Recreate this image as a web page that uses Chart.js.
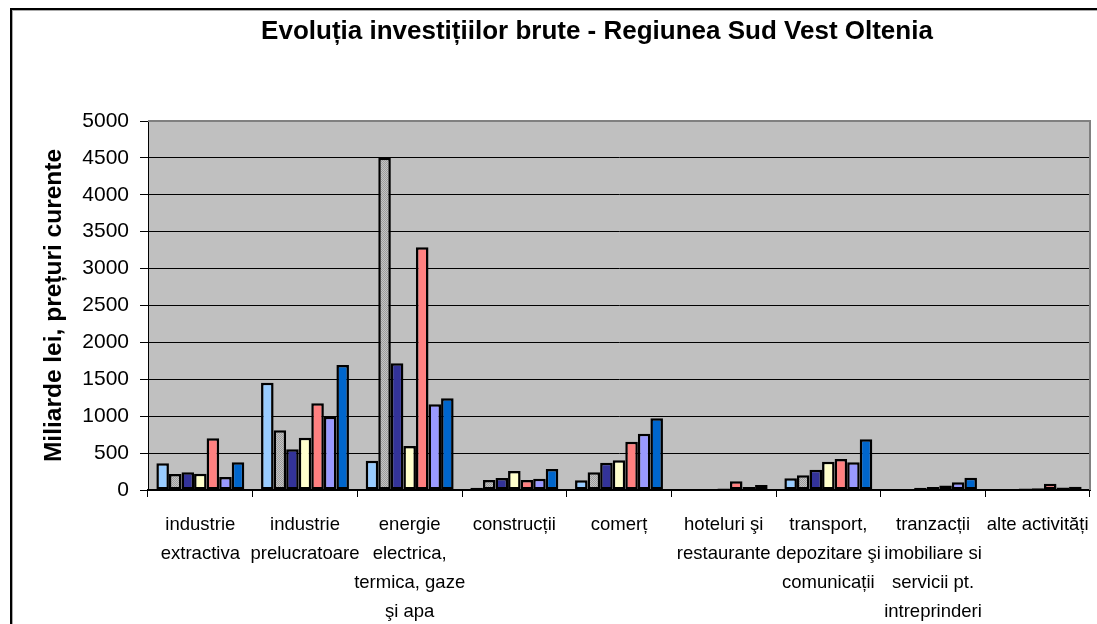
<!DOCTYPE html>
<html>
<head>
<meta charset="utf-8">
<script src="https://cdn.jsdelivr.net/npm/chart.js@4.4.1/dist/chart.umd.min.js"></script>
<style>
  html, body { margin: 0; padding: 0; background: #fff; overflow: hidden; }
  #wrap { position: relative; width: 1097px; height: 624px; }
  #frame { position: absolute; left: 10px; top: 8px; width: 1200px; height: 700px;
           border-left: 2px solid #000; border-top: 2px solid #000; box-shadow: inset 1px 1px 0 #aaa; }
  canvas { position: absolute; left: 0; top: 0; }
</style>
</head>
<body>
<div id="wrap">
  <div id="frame"></div>
  <canvas id="chart" width="1097" height="624"></canvas>
</div>
<script>
  const TITLE = "Evoluția investițiilor brute - Regiunea Sud Vest Oltenia";
  const Y_TITLE = "Miliarde lei, prețuri curente";

  const categories = [
    ["industrie", "extractiva"],
    ["industrie", "prelucratoare"],
    ["energie", "electrica,", "termica, gaze", "şi apa"],
    ["construcții"],
    ["comerț"],
    ["hoteluri şi", "restaurante"],
    ["transport,", "depozitare şi", "comunicații"],
    ["tranzacții", "imobiliare si", "servicii pt.", "intreprinderi"],
    ["alte activități"]
  ];

  const seriesNames = ["Seria 1", "Seria 2", "Seria 3", "Seria 4", "Seria 5", "Seria 6", "Seria 7"];
  const s1 = [362, 1454, 397, 30, 131, 3, 158, 5, 3];
  const s2 = [217, 809, 4503, 135, 240, 8, 199, 15, 8];
  const s3 = [240, 551, 1716, 162, 370, 15, 275, 30, 20];
  const s4 = [221, 709, 596, 257, 402, 20, 384, 40, 25];
  const s5 = [700, 1175, 3288, 135, 655, 117, 420, 60, 85];
  const s6 = [176, 993, 1161, 153, 763, 41, 375, 105, 35];
  const s7 = [375, 1694, 1242, 285, 971, 68, 687, 165, 45];

  const yMin = 0;
  const yMax = 5000;
  const yStep = 500;

  const FONT = "'Liberation Sans', Arial, sans-serif";

  // small stipple pattern for the grey series
  function greyPattern() {
    const c = document.createElement("canvas");
    c.width = 2;
    c.height = 2;
    const g = c.getContext("2d");
    g.fillStyle = "#c4c4c4";
    g.fillRect(0, 0, 2, 2);
    g.fillStyle = "#9c9c9c";
    g.fillRect(0, 0, 1, 1);
    g.fillRect(1, 1, 1, 1);
    return g.createPattern(c, "repeat");
  }

  const fills = ["#99ccff", greyPattern(), "#333399", "#ffffcc", "#ff8080", "#9999ff", "#0066cc"];
  const values = [s1, s2, s3, s4, s5, s6, s7];

  const plotBg = {
    id: "plotBg",
    beforeDraw(chart) {
      const { ctx, chartArea: a } = chart;
      ctx.save();
      ctx.fillStyle = "#c0c0c0";
      ctx.fillRect(a.left, a.top, a.right - a.left, a.bottom - a.top);
      ctx.restore();
    },
    beforeDatasetsDraw(chart) {
      const { ctx, chartArea: a } = chart;
      ctx.save();
      ctx.strokeStyle = "#808080";
      ctx.lineWidth = 2;
      ctx.beginPath();
      ctx.moveTo(a.left, a.top);
      ctx.lineTo(a.right, a.top);
      ctx.lineTo(a.right, a.bottom);
      ctx.stroke();
      ctx.restore();
    },
    afterDraw(chart) {
      const ctx = chart.ctx;
      ctx.save();
      ctx.fillStyle = "#000";
      ctx.font = "bold 26px " + FONT;
      ctx.textAlign = "center";
      ctx.textBaseline = "middle";
      ctx.fillText(TITLE, 597, 32);
      ctx.restore();
    }
  };

  new Chart(document.getElementById("chart"), {
    type: "bar",
    data: {
      labels: categories,
      datasets: values.map((v, i) => ({
        label: seriesNames[i],
        data: v,
        backgroundColor: fills[i],
        borderColor: "#000",
        borderWidth: 2.5,
        borderSkipped: false,
        barPercentage: 1.0,
        categoryPercentage: 0.84
      }))
    },
    options: {
      responsive: false,
      animation: false,
      devicePixelRatio: 1,
      layout: { padding: { top: 121, right: 7, left: 0, bottom: 0 } },
      plugins: {
        legend: { display: false },
        tooltip: { enabled: false },
        title: { display: false }
      },
      scales: {
        x: {
          afterFit(scale) {
            scale.height = 134;
            scale.paddingLeft = 0;
            scale.paddingRight = 0;
          },
          grid: { drawOnChartArea: false, drawTicks: true, tickLength: 7, color: "#000", offset: true },
          border: { color: "#000", width: 2 },
          ticks: {
            color: "#000",
            padding: 13,
            maxRotation: 0,
            autoSkip: false,
            font: { family: FONT, size: 18.5, lineHeight: 1.57 }
          }
        },
        y: {
          min: yMin,
          max: yMax,
          afterFit(scale) { scale.width = 148; },
          grid: { color: "#000", lineWidth: 1, tickLength: 8, drawTicks: true },
          border: { color: "#000", width: 1 },
          ticks: {
            stepSize: yStep,
            color: "#000",
            padding: 11,
            callback: (v) => String(v),
            font: { family: FONT, size: 21 }
          },
          title: {
            display: true,
            text: Y_TITLE,
            color: "#000",
            padding: { top: 40, bottom: 0 },
            font: { family: FONT, size: 24.5, weight: "bold" }
          }
        }
      }
    },
    plugins: [plotBg]
  });
</script>
</body>
</html>
